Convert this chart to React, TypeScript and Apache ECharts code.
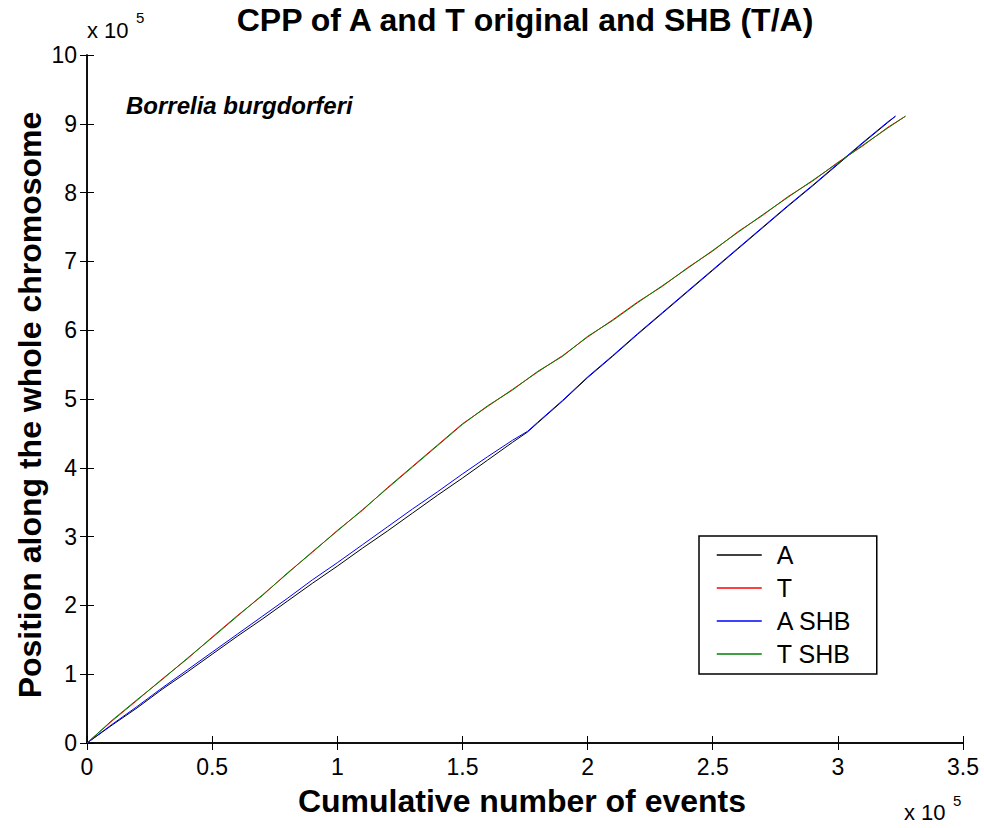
import React, { useEffect, useRef } from "react";
import * as echarts from "echarts";

const FONT = "'Liberation Sans', Arial, Helvetica, sans-serif";

const titleText = "CPP of A and T original and SHB (T/A)";
const xName = "Cumulative number of events";
const yName = "Position along the whole chromosome";
const organism = "Borrelia burgdorferi";

const xTicks = [0, 0.5, 1, 1.5, 2, 2.5, 3, 3.5];
const yTicks = [0, 1, 2, 3, 4, 5, 6, 7, 8, 9, 10];

// values in units of 1e5
const tX = [0, 0.1, 0.2, 0.3, 0.4, 0.5, 0.6, 0.7, 0.8, 0.9, 1.0, 1.1, 1.2, 1.3, 1.4, 1.5, 1.6, 1.7, 1.8, 1.9, 2.0, 2.1, 2.2, 2.3, 2.4, 2.5, 2.6, 2.7, 2.8, 2.9, 3.0, 3.1, 3.2, 3.27];
const tY = [0, 0.32, 0.62, 0.93, 1.22, 1.54, 1.85, 2.14, 2.47, 2.77, 3.09, 3.38, 3.71, 4.02, 4.33, 4.64, 4.89, 5.14, 5.39, 5.63, 5.9, 6.15, 6.41, 6.64, 6.91, 7.15, 7.43, 7.67, 7.94, 8.17, 8.44, 8.68, 8.95, 9.11];
const tShbY = [0, 0.33, 0.63, 0.92, 1.23, 1.53, 1.84, 2.15, 2.46, 2.78, 3.08, 3.39, 3.7, 4.01, 4.32, 4.63, 4.9, 5.13, 5.4, 5.62, 5.91, 6.14, 6.4, 6.65, 6.9, 7.16, 7.42, 7.68, 7.93, 8.18, 8.43, 8.69, 8.94, 9.11];

const aX = [0, 0.1, 0.2, 0.3, 0.4, 0.5, 0.6, 0.7, 0.8, 0.9, 1.0, 1.1, 1.2, 1.3, 1.4, 1.5, 1.6, 1.7, 1.76, 1.8, 1.9, 2.0, 2.1, 2.2, 2.3, 2.4, 2.5, 2.6, 2.7, 2.8, 2.9, 3.0, 3.1, 3.2, 3.23];
const aY = [0, 0.26, 0.51, 0.78, 1.03, 1.29, 1.55, 1.8, 2.06, 2.32, 2.57, 2.83, 3.08, 3.34, 3.6, 3.85, 4.11, 4.37, 4.52, 4.65, 4.97, 5.31, 5.62, 5.94, 6.25, 6.56, 6.87, 7.18, 7.49, 7.8, 8.1, 8.41, 8.72, 9.02, 9.11];
const aShbY = [0, 0.27, 0.53, 0.8, 1.06, 1.32, 1.58, 1.84, 2.1, 2.37, 2.62, 2.88, 3.14, 3.4, 3.65, 3.91, 4.16, 4.4, 4.53, 4.66, 4.98, 5.32, 5.63, 5.95, 6.26, 6.57, 6.88, 7.19, 7.5, 7.81, 8.11, 8.42, 8.73, 9.03, 9.11];

const seriesNames = ["A", "T", "A SHB", "T SHB"];
const seriesColors = ["#000000", "#ff0000", "#0000ff", "#008000"];

const zip = (xs: number[], ys: number[]) => xs.map((x, i) => [x, ys[i]]);

const GRID = { left: 87, right: 21, top: 55, bottom: 85 };

export default function App() {
  const ref = useRef<HTMLDivElement>(null);
  useEffect(() => {
    document.body.style.margin = "0";
    const chart = echarts.init(ref.current!, null, { renderer: "svg" });
    const datas = [zip(aX, aY), zip(tX, tY), zip(aX, aShbY), zip(tX, tShbY)];
    const axisCommon = {
      type: "value",
      axisLine: { show: true, lineStyle: { color: "#000", width: 1.5 } },
      axisTick: { show: true, inside: true, length: 7, lineStyle: { color: "#000", width: 1 } },
      splitLine: { show: false },
    };
    chart.setOption({
      animation: false,
      backgroundColor: "#ffffff",
      textStyle: { fontFamily: FONT },
      grid: { ...GRID, containLabel: false },
      xAxis: [
        {
          ...axisCommon,
          position: "bottom",
          min: xTicks[0],
          max: xTicks[xTicks.length - 1],
          interval: 0.5,
          axisLabel: { show: true, color: "#000", fontSize: 23, fontFamily: FONT, margin: 12 },
        },
        {
          ...axisCommon,
          position: "top",
          min: xTicks[0],
          max: xTicks[xTicks.length - 1],
          interval: 0.5,
          axisLabel: { show: false },
        },
      ],
      yAxis: [
        {
          ...axisCommon,
          position: "left",
          min: yTicks[0],
          max: yTicks[yTicks.length - 1],
          interval: 1,
          axisLabel: { show: true, color: "#000", fontSize: 23, fontFamily: FONT, margin: 10 },
        },
        {
          ...axisCommon,
          position: "right",
          min: yTicks[0],
          max: yTicks[yTicks.length - 1],
          interval: 1,
          axisLabel: { show: false },
        },
      ],
      legend: {
        show: true,
        orient: "vertical",
        left: 699,
        top: 536,
        data: seriesNames,
        itemWidth: 45,
        itemHeight: 14,
        itemGap: 7,
        padding: [6, 25, 7, 17],
        borderColor: "#000",
        borderWidth: 1.5,
        backgroundColor: "#fff",
        borderRadius: 0,
        itemStyle: { color: "transparent", borderColor: "transparent", borderWidth: 0 },
        lineStyle: { width: 1.5 },
        textStyle: { color: "#000", fontSize: 25, fontFamily: FONT, lineHeight: 26, padding: [0, 0, 0, 10] },
      },
      series: datas.map((d, i) => ({
        name: seriesNames[i],
        type: "line",
        data: d,
        xAxisIndex: 0,
        yAxisIndex: 0,
        symbol: "none",
        showSymbol: false,
        lineStyle: { color: seriesColors[i], width: 1 },
        itemStyle: { color: seriesColors[i] },
        z: 2 + i,
      })),
      graphic: [
        {
          type: "text",
          x: 525,
          y: 20,
          style: { text: titleText, fontSize: 32, fontWeight: "bold", fontFamily: FONT, fill: "#000", textAlign: "center", textVerticalAlign: "middle" },
        },
        {
          type: "text",
          x: 87,
          y: 41,
          style: { text: "x 10", fontSize: 22, fontFamily: FONT, fill: "#000", textAlign: "left", textVerticalAlign: "bottom" },
        },
        {
          type: "text",
          x: 136,
          y: 25,
          style: { text: "5", fontSize: 15, fontFamily: FONT, fill: "#000", textAlign: "left", textVerticalAlign: "bottom" },
        },
        {
          type: "text",
          x: 126,
          y: 105,
          style: { text: organism, fontSize: 24, fontWeight: "bold", fontStyle: "italic", fontFamily: FONT, fill: "#000", textAlign: "left", textVerticalAlign: "middle" },
        },
        {
          type: "text",
          x: 522,
          y: 801,
          style: { text: xName, fontSize: 32, fontWeight: "bold", fontFamily: FONT, fill: "#000", textAlign: "center", textVerticalAlign: "middle" },
        },
        {
          type: "text",
          x: 904,
          y: 823,
          style: { text: "x 10", fontSize: 22, fontFamily: FONT, fill: "#000", textAlign: "left", textVerticalAlign: "bottom" },
        },
        {
          type: "text",
          x: 953,
          y: 808,
          style: { text: "5", fontSize: 15, fontFamily: FONT, fill: "#000", textAlign: "left", textVerticalAlign: "bottom" },
        },
        {
          type: "text",
          x: 30,
          y: 405,
          rotation: Math.PI / 2,
          style: { text: yName, fontSize: 32, fontWeight: "bold", fontFamily: FONT, fill: "#000", textAlign: "center", textVerticalAlign: "middle" },
        },
      ],
    });
    return () => chart.dispose();
  }, []);
  return <div ref={ref} style={{ width: 984, height: 828 }} />;
}
